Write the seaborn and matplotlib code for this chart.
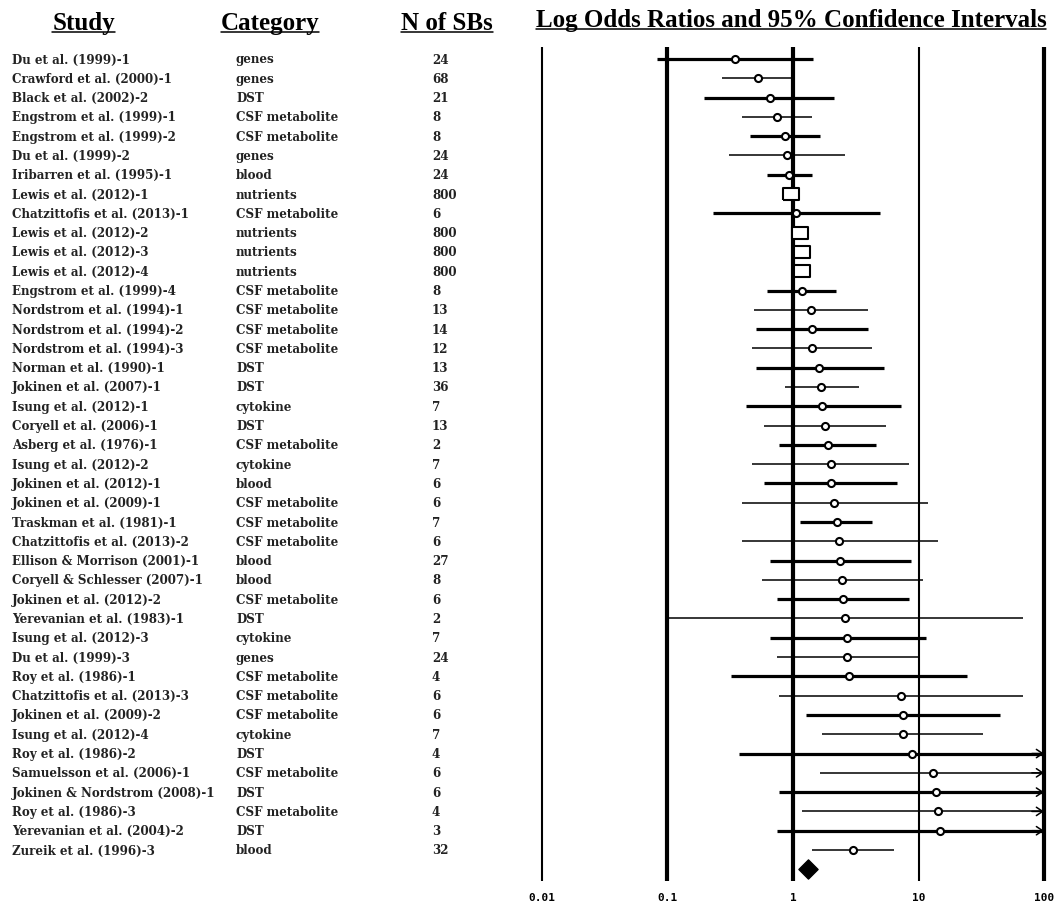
import matplotlib.pyplot as plt
import matplotlib.transforms as mtransforms
from matplotlib.lines import Line2D
import numpy as np
import pandas as pd
import seaborn as sns

studies = [
    "Du et al. (1999)-1", "Crawford et al. (2000)-1", "Black et al. (2002)-2",
    "Engstrom et al. (1999)-1", "Engstrom et al. (1999)-2", "Du et al. (1999)-2",
    "Iribarren et al. (1995)-1", "Lewis et al. (2012)-1", "Chatzittofis et al. (2013)-1",
    "Lewis et al. (2012)-2", "Lewis et al. (2012)-3", "Lewis et al. (2012)-4",
    "Engstrom et al. (1999)-4", "Nordstrom et al. (1994)-1", "Nordstrom et al. (1994)-2",
    "Nordstrom et al. (1994)-3", "Norman et al. (1990)-1", "Jokinen et al. (2007)-1",
    "Isung et al. (2012)-1", "Coryell et al. (2006)-1", "Asberg et al. (1976)-1",
    "Isung et al. (2012)-2", "Jokinen et al. (2012)-1", "Jokinen et al. (2009)-1",
    "Traskman et al. (1981)-1", "Chatzittofis et al. (2013)-2", "Ellison & Morrison (2001)-1",
    "Coryell & Schlesser (2007)-1", "Jokinen et al. (2012)-2", "Yerevanian et al. (1983)-1",
    "Isung et al. (2012)-3", "Du et al. (1999)-3", "Roy et al. (1986)-1",
    "Chatzittofis et al. (2013)-3", "Jokinen et al. (2009)-2", "Isung et al. (2012)-4",
    "Roy et al. (1986)-2", "Samuelsson et al. (2006)-1", "Jokinen & Nordstrom (2008)-1",
    "Roy et al. (1986)-3", "Yerevanian et al. (2004)-2", "Zureik et al. (1996)-3",
]
categories = [
    "genes", "genes", "DST", "CSF metabolite", "CSF metabolite", "genes",
    "blood", "nutrients", "CSF metabolite", "nutrients", "nutrients", "nutrients",
    "CSF metabolite", "CSF metabolite", "CSF metabolite", "CSF metabolite", "DST", "DST",
    "cytokine", "DST", "CSF metabolite", "cytokine", "blood", "CSF metabolite",
    "CSF metabolite", "CSF metabolite", "blood", "blood", "CSF metabolite", "DST",
    "cytokine", "genes", "CSF metabolite", "CSF metabolite", "CSF metabolite", "cytokine",
    "DST", "CSF metabolite", "DST", "CSF metabolite", "DST", "blood",
]
n_sbs = [24, 68, 21, 8, 8, 24, 24, 800, 6, 800, 800, 800, 8, 13, 14, 12, 13, 36,
         7, 13, 2, 7, 6, 6, 7, 6, 27, 8, 6, 2, 7, 24, 4, 6, 6, 7, 4, 6, 6, 4, 3, 32]
odds_ratio = [0.345, 0.53, 0.65, 0.74, 0.86, 0.89, 0.93, 0.96, 1.05, 1.14, 1.17, 1.17,
              1.17, 1.39, 1.42, 1.42, 1.61, 1.67, 1.71, 1.80, 1.89, 2.00, 2.00, 2.13,
              2.23, 2.34, 2.37, 2.44, 2.49, 2.60, 2.71, 2.71, 2.81, 7.26, 7.57, 7.57,
              8.93, 13.1, 13.7, 14.2, 14.8, 2.99]
ci_lower = [0.082, 0.27, 0.196, 0.39, 0.454, 0.31, 0.62, 0.90, 0.23, 1.07, 1.10, 1.10,
            0.62, 0.49, 0.51, 0.47, 0.51, 0.86, 0.42, 0.59, 0.78, 0.47, 0.59, 0.39,
            1.14, 0.39, 0.65, 0.57, 0.74, 0.10, 0.66, 0.74, 0.32, 0.77, 1.27, 1.71,
            0.37, 1.64, 0.77, 1.17, 0.75, 1.43]
ci_upper = [1.45, 0.98, 2.13, 1.41, 1.64, 2.6, 1.41, 1.03, 4.93, 1.22, 1.25, 1.25,
            2.2, 3.94, 3.94, 4.24, 5.31, 3.38, 7.2, 5.5, 4.56, 8.4, 6.7, 11.8,
            4.24, 14.2, 8.7, 10.9, 8.4, 67.6, 11.4, 10.0, 24.2, 67.6, 44.7, 32.8,
            np.inf, np.inf, np.inf, np.inf, np.inf, 6.42]
pooled_or = 1.31

tick_values = [0.01, 0.1, 1, 10, 100]
tick_labels = ["0.01", "0.1", "1", "10", "100"]


if __name__ == "__main__":

    df = pd.DataFrame({"study": studies, "category": categories, "n": n_sbs,
                       "or": odds_ratio, "lo": ci_lower, "hi": ci_upper})
    df["row"] = np.arange(len(df))
    df["big"] = df["n"] >= 500

    sns.set_style("white")
    plt.rcParams["text.color"] = "black"
    plt.rcParams["xtick.color"] = "black"

    fig = plt.figure(figsize=(10.59, 9.04), dpi=100)
    ax = fig.add_axes([530 / 1059, 1 - 882 / 904, 529 / 1059, (882 - 48) / 904])
    ax.set_xscale("log")
    ax.set_xlim(10 ** -2.0956, 10 ** 2.1195)
    ax.set_ylim(42.607, -0.622)

    # reference lines at each decade
    for v, w in zip(tick_values, [1.5, 3, 3, 1.5, 3]):
        ax.axvline(v, color="k", lw=w, zorder=1)

    # confidence intervals, alternating thick/thin as in the original
    xmax = tick_values[-1]
    for _, r in df.iterrows():
        lw = 2.3 if r["row"] % 2 == 0 else 1.1
        hi = r["hi"] if np.isfinite(r["hi"]) else xmax
        ax.hlines(r["row"], r["lo"], hi, color="k", lw=lw, zorder=2)
        if not np.isfinite(r["hi"]):
            # open arrowhead: interval runs past the axis
            ax.annotate("", xy=(xmax, r["row"]), xytext=(xmax * 0.8, r["row"]),
                        arrowprops=dict(arrowstyle="->,head_length=0.45,head_width=0.3",
                                        color="k", lw=1.1, shrinkA=0, shrinkB=0),
                        zorder=2)

    # small rounded boxes for single studies, wide boxes for the big samples
    box = [(-1.3, -1), (1.3, -1), (1.3, 1), (-1.3, 1), (-1.3, -1)]
    sns.scatterplot(data=df[~df["big"]], x="or", y="row", marker="o", s=26,
                    facecolor="white", edgecolor="k", linewidth=1.5, ax=ax, zorder=3)
    sns.scatterplot(data=df[df["big"]], x="or", y="row", marker=box, s=130,
                    facecolor="white", edgecolor="k", linewidth=1.5, ax=ax, zorder=3)
    ax.scatter([pooled_or], [len(df)], marker="D", s=95, color="k", zorder=3)

    ax.set_xticks(tick_values)
    ax.set_xticklabels(tick_labels, fontfamily="DejaVu Sans Mono", fontweight="bold",
                       fontsize=8)
    ax.minorticks_off()
    ax.tick_params(axis="x", length=0, pad=8)
    ax.set_yticks([])
    ax.set_xlabel("")
    ax.set_ylabel("")
    for s in ax.spines.values():
        s.set_visible(False)

    # text columns
    trans = mtransforms.blended_transform_factory(fig.transFigure, ax.transData)
    for _, r in df.iterrows():
        kw = dict(transform=trans, va="center", ha="left", fontsize=8.6,
                  fontweight="bold", fontfamily="DejaVu Serif", color="#222222")
        fig.text(12 / 1059, r["row"], r["study"], **kw)
        fig.text(236 / 1059, r["row"], r["category"], **kw)
        fig.text(432 / 1059, r["row"], str(r["n"]), **kw)

    # underlined headers
    headers = [("Study", 83.5, 30), ("Category", 270, 30), ("N of SBs", 447, 30),
               ("Log Odds Ratios and 95% Confidence Intervals", 791, 27)]
    renderer = fig.canvas.get_renderer()
    for txt, xc, base in headers:
        t = fig.text(xc / 1059, 1 - base / 904, txt, ha="center", va="baseline",
                     fontsize=18, fontweight="bold", fontfamily="Liberation Serif")
        bb = t.get_window_extent(renderer).transformed(fig.transFigure.inverted())
        yu = 1 - (base + 3) / 904
        fig.add_artist(Line2D([bb.x0, bb.x1], [yu, yu], color="k", lw=1.1,
                              transform=fig.transFigure))

    fig.savefig("out.png", dpi=100)
